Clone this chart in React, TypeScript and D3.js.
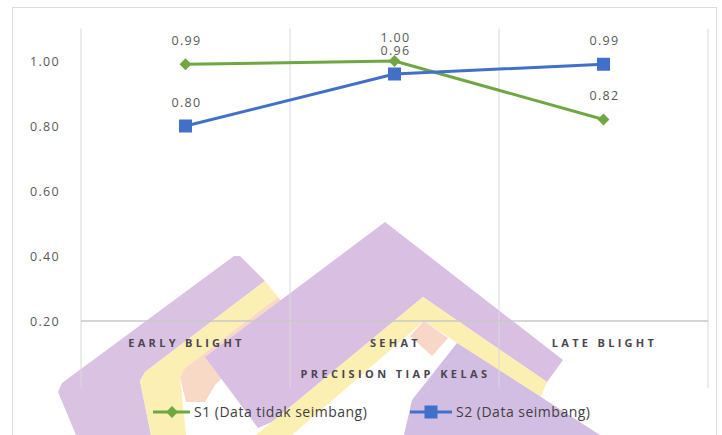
import React from "react";
import * as d3 from "d3";

// Classes on the x axis
const categories = ["EARLY BLIGHT", "SEHAT", "LATE BLIGHT"];
// Precision per class for each scenario
const s1Values = [0.99, 1.0, 0.82];
const s2Values = [0.8, 0.96, 0.99];
const yTicks = [0.2, 0.4, 0.6, 0.8, 1.0];
const seriesNames = ["S1 (Data tidak seimbang)", "S2 (Data seimbang)"];
const axisTitle = "PRECISION TIAP KELAS";

const W = 722;
const H = 435;
const GREEN = "#6fa843";
const BLUE = "#4170c8";
const FONT = "'Open Sans', 'Liberation Sans', sans-serif";

// Background emblem (decorative, drawn underneath the chart)
const emblem: { pts: string; fill: string }[] = [
  { pts: "62,383 234,256 240,256 265,281 145,372 140,381 151,435 76,435 58,392", fill: "#dac2e3" },
  { pts: "265,281 278,297 185,368 180,377 186,435 151,435 140,381 145,372", fill: "#fcefb4" },
  { pts: "185,368 278,297 290,312 215,385 205,402 186,402 180,377", fill: "#f8d9c6" },
  { pts: "385,222 563,360 547,382 423,297 272,422 258,428 205,357", fill: "#d9c0e3" },
  { pts: "423,297 547,382 540,398 424,321 292,435 256,435 272,422", fill: "#fcefb2" },
  { pts: "424,321 448,338 432,356 410,336", fill: "#f8d6c8" },
  { pts: "457,343 600,435 404,435 412,400", fill: "#d3bee3" },
];

export default function App() {
  const x = d3.scaleBand<string>().domain(categories).range([81, 708]).padding(0);
  const y = d3.scaleLinear().domain([0.2, 1.1]).range([321, 28.5]);
  const cx = (c: string) => (x(c) as number) + x.bandwidth() / 2;

  const boundaries = categories.map((c) => x(c) as number).concat([x.range()[1]]);

  const line = d3
    .line<number>()
    .x((_, i) => cx(categories[i]))
    .y((v) => y(v));

  const diamond = d3.symbol().type(d3.symbolDiamond2).size(90);

  return (
    <svg width={W} height={H} style={{ display: "block", position: "absolute", left: 0, top: 0 }}>
      <rect x={0} y={0} width={W} height={H} fill="#ffffff" />
      <rect x={12.5} y={7.5} width={704} height={H} fill="none" stroke="#dcdcdc" strokeWidth={1} />

      <g>
        {emblem.map((s, i) => (
          <polygon key={i} points={s.pts} fill={s.fill} />
        ))}
      </g>

      {/* category boundary gridlines */}
      {boundaries.map((bx, i) => (
        <line key={i} x1={bx} x2={bx} y1={y(1.1)} y2={388} stroke="#d9d9d9" strokeWidth={1} />
      ))}
      {/* x axis line */}
      <line x1={x.range()[0]} x2={x.range()[1]} y1={y(0.2)} y2={y(0.2)} stroke="#c8c8c8" strokeWidth={1.3} />

      {/* y tick labels */}
      {yTicks.map((t) => (
        <text
          key={t}
          x={60}
          y={y(t) + 4.5}
          textAnchor="end"
          fontFamily={FONT}
          fontSize={12.5}
          letterSpacing={1.3}
          fill="#595959"
        >
          {t.toFixed(2)}
        </text>
      ))}

      {/* category labels */}
      {categories.map((c) => (
        <text
          key={c}
          x={cx(c) + 1}
          y={347}
          textAnchor="middle"
          fontFamily={FONT}
          fontSize={11}
          fontWeight={700}
          letterSpacing={3.3}
          fill="#4a4550"
        >
          {c}
        </text>
      ))}

      <text
        x={(x.range()[0] + x.range()[1]) / 2 + 1}
        y={378}
        textAnchor="middle"
        fontFamily={FONT}
        fontSize={11}
        fontWeight={700}
        letterSpacing={3.4}
        fill="#4a4550"
      >
        {axisTitle}
      </text>

      {/* series lines */}
      <path d={line(s1Values) || ""} fill="none" stroke={GREEN} strokeWidth={3} strokeLinejoin="round" />
      <path d={line(s2Values) || ""} fill="none" stroke={BLUE} strokeWidth={3} strokeLinejoin="round" />

      {s1Values.map((v, i) => (
        <path
          key={"d" + i}
          d={diamond() || ""}
          transform={`translate(${cx(categories[i])},${y(v)})`}
          fill={GREEN}
        />
      ))}
      {s2Values.map((v, i) => (
        <rect
          key={"s" + i}
          x={cx(categories[i]) - 6.5}
          y={y(v) - 6.5}
          width={13}
          height={13}
          fill={BLUE}
        />
      ))}

      {/* value labels */}
      {[s1Values, s2Values].map((vals, k) =>
        vals.map((v, i) => (
          <text
            key={`l${k}-${i}`}
            x={cx(categories[i]) + 1}
            y={y(v) - 24 + 4.5}
            textAnchor="middle"
            fontFamily={FONT}
            fontSize={12.5}
            letterSpacing={1.3}
            fill="#595959"
          >
            {v.toFixed(2)}
          </text>
        ))
      )}

      {/* legend */}
      <g fontFamily={FONT} fontSize={14} letterSpacing={0.5} fill="#404040">
        <line x1={153} x2={190} y1={412} y2={412} stroke={GREEN} strokeWidth={3} />
        <path d={diamond() || ""} transform="translate(172,412)" fill={GREEN} />
        <text x={194} y={417}>{seriesNames[0]}</text>
        <line x1={410} x2={452} y1={412} y2={412} stroke={BLUE} strokeWidth={3} />
        <rect x={424.5} y={405.5} width={13} height={13} fill={BLUE} />
        <text x={456} y={417}>{seriesNames[1]}</text>
      </g>
    </svg>
  );
}
